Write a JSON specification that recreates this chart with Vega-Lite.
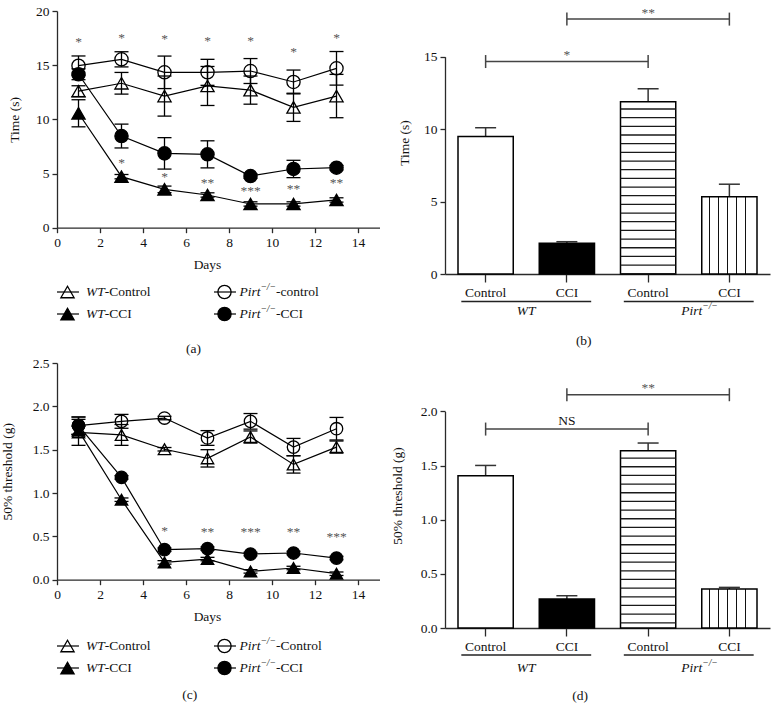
{
 "$schema": "https://vega.github.io/schema/vega-lite/v6.json",
 "background": "white",
 "padding": {"left": 0, "top": 4, "right": 2, "bottom": 2},
 "config": {
  "font": "Liberation Serif",
  "view": {"stroke": null},
  "axis": {
   "labelFont": "Liberation Serif", "titleFont": "Liberation Serif",
   "labelFontSize": 13.5, "titleFontSize": 13.5, "titleFontWeight": "normal",
   "labelColor": "#111", "titleColor": "#111",
   "domainColor": "#2a2a2a", "tickColor": "#2a2a2a", "domainWidth": 1.3, "tickWidth": 1.3,
   "grid": false, "tickSize": 5, "labelPadding": 3, "labelFlush": false, "labelOverlap": false
  },
  "title": {"font": "Liberation Serif", "fontSize": 13.5, "fontWeight": "normal", "color": "#111", "anchor": "middle"},
  "text": {"font": "Liberation Serif"}
 },
 "datasets": {
  "timeA": [
   {"series": "Pirt-Control", "day": 1, "mean": 14.95, "sem": 0.9},
   {"series": "Pirt-Control", "day": 3, "mean": 15.54, "sem": 0.7},
   {"series": "Pirt-Control", "day": 5, "mean": 14.34, "sem": 1.5},
   {"series": "Pirt-Control", "day": 7, "mean": 14.34, "sem": 1.2},
   {"series": "Pirt-Control", "day": 9, "mean": 14.46, "sem": 1.15},
   {"series": "Pirt-Control", "day": 11, "mean": 13.45, "sem": 1.1},
   {"series": "Pirt-Control", "day": 13, "mean": 14.71, "sem": 1.55},
   {"series": "WT-Control", "day": 1, "mean": 12.6, "sem": 0.5},
   {"series": "WT-Control", "day": 3, "mean": 13.33, "sem": 1.0},
   {"series": "WT-Control", "day": 5, "mean": 12.15, "sem": 1.85},
   {"series": "WT-Control", "day": 7, "mean": 13.08, "sem": 1.8},
   {"series": "WT-Control", "day": 9, "mean": 12.7, "sem": 1.3},
   {"series": "WT-Control", "day": 11, "mean": 11.11, "sem": 1.3},
   {"series": "WT-Control", "day": 13, "mean": 12.15, "sem": 2.0},
   {"series": "Pirt-CCI", "day": 1, "mean": 14.16, "sem": 0.5},
   {"series": "Pirt-CCI", "day": 3, "mean": 8.46, "sem": 1.1},
   {"series": "Pirt-CCI", "day": 5, "mean": 6.86, "sem": 1.45},
   {"series": "Pirt-CCI", "day": 7, "mean": 6.77, "sem": 1.25},
   {"series": "Pirt-CCI", "day": 9, "mean": 4.77, "sem": 0.2},
   {"series": "Pirt-CCI", "day": 11, "mean": 5.42, "sem": 0.8},
   {"series": "Pirt-CCI", "day": 13, "mean": 5.54, "sem": 0.2},
   {"series": "WT-CCI", "day": 1, "mean": 10.56, "sem": 1.25},
   {"series": "WT-CCI", "day": 3, "mean": 4.71, "sem": 0.2},
   {"series": "WT-CCI", "day": 5, "mean": 3.54, "sem": 0.3},
   {"series": "WT-CCI", "day": 7, "mean": 3.02, "sem": 0.2},
   {"series": "WT-CCI", "day": 9, "mean": 2.19, "sem": 0.2},
   {"series": "WT-CCI", "day": 11, "mean": 2.19, "sem": 0.2},
   {"series": "WT-CCI", "day": 13, "mean": 2.56, "sem": 0.2}
  ],
  "timeC": [
   {"series": "Pirt-Control", "day": 1, "mean": 1.777, "sem": 0.1},
   {"series": "Pirt-Control", "day": 3, "mean": 1.827, "sem": 0.08},
   {"series": "Pirt-Control", "day": 5, "mean": 1.865, "sem": 0.02},
   {"series": "Pirt-Control", "day": 7, "mean": 1.635, "sem": 0.085},
   {"series": "Pirt-Control", "day": 9, "mean": 1.827, "sem": 0.09},
   {"series": "Pirt-Control", "day": 11, "mean": 1.53, "sem": 0.1},
   {"series": "Pirt-Control", "day": 13, "mean": 1.742, "sem": 0.13},
   {"series": "WT-Control", "day": 1, "mean": 1.7, "sem": 0.15},
   {"series": "WT-Control", "day": 3, "mean": 1.67, "sem": 0.12},
   {"series": "WT-Control", "day": 5, "mean": 1.505, "sem": 0.02},
   {"series": "WT-Control", "day": 7, "mean": 1.4, "sem": 0.1},
   {"series": "WT-Control", "day": 9, "mean": 1.646, "sem": 0.07},
   {"series": "WT-Control", "day": 11, "mean": 1.33, "sem": 0.1},
   {"series": "WT-Control", "day": 13, "mean": 1.53, "sem": 0.07},
   {"series": "Pirt-CCI", "day": 1, "mean": 1.777, "sem": 0.1},
   {"series": "Pirt-CCI", "day": 3, "mean": 1.18, "sem": 0.02},
   {"series": "Pirt-CCI", "day": 5, "mean": 0.346, "sem": 0.02},
   {"series": "Pirt-CCI", "day": 7, "mean": 0.358, "sem": 0.02},
   {"series": "Pirt-CCI", "day": 9, "mean": 0.296, "sem": 0.02},
   {"series": "Pirt-CCI", "day": 11, "mean": 0.308, "sem": 0.02},
   {"series": "Pirt-CCI", "day": 13, "mean": 0.25, "sem": 0.02},
   {"series": "WT-CCI", "day": 1, "mean": 1.72, "sem": 0.05},
   {"series": "WT-CCI", "day": 3, "mean": 0.923, "sem": 0.02},
   {"series": "WT-CCI", "day": 5, "mean": 0.2, "sem": 0.02},
   {"series": "WT-CCI", "day": 7, "mean": 0.238, "sem": 0.02},
   {"series": "WT-CCI", "day": 9, "mean": 0.096, "sem": 0.02},
   {"series": "WT-CCI", "day": 11, "mean": 0.135, "sem": 0.02},
   {"series": "WT-CCI", "day": 13, "mean": 0.069, "sem": 0.02}
  ],
  "starsA": [
   {"day": 1, "y": 17.17, "label": "*"},
   {"day": 3, "y": 17.5, "label": "*"},
   {"day": 5, "y": 17.4, "label": "*"},
   {"day": 7, "y": 17.25, "label": "*"},
   {"day": 9, "y": 17.25, "label": "*"},
   {"day": 11, "y": 16.2, "label": "*"},
   {"day": 13, "y": 17.5, "label": "*"},
   {"day": 3, "y": 6.0, "label": "*"},
   {"day": 5, "y": 4.7, "label": "*"},
   {"day": 7, "y": 4.15, "label": "**"},
   {"day": 9, "y": 3.4, "label": "***"},
   {"day": 11, "y": 3.54, "label": "**"},
   {"day": 13, "y": 4.1, "label": "**"}
  ],
  "starsC": [
   {"day": 5, "y": 0.557, "label": "*"},
   {"day": 7, "y": 0.546, "label": "**"},
   {"day": 9, "y": 0.546, "label": "***"},
   {"day": 11, "y": 0.546, "label": "**"},
   {"day": 13, "y": 0.488, "label": "***"}
  ],
  "legendA": [
   {"series": "WT-Control", "geno": "WT", "cond": "Control", "suffix": "-Control"},
   {"series": "WT-CCI", "geno": "WT", "cond": "CCI", "suffix": "-CCI"},
   {"series": "Pirt-Control", "geno": "Pirt", "cond": "Control", "suffix": "-control"},
   {"series": "Pirt-CCI", "geno": "Pirt", "cond": "CCI", "suffix": "-CCI"}
  ],
  "legendC": [
   {"series": "WT-Control", "geno": "WT", "cond": "Control", "suffix": "-Control"},
   {"series": "WT-CCI", "geno": "WT", "cond": "CCI", "suffix": "-CCI"},
   {"series": "Pirt-Control", "geno": "Pirt", "cond": "Control", "suffix": "-Control"},
   {"series": "Pirt-CCI", "geno": "Pirt", "cond": "CCI", "suffix": "-CCI"}
  ],
  "barsB": [
   {"bar": "WT-Control", "mean": 9.49, "upper": 10.1},
   {"bar": "WT-CCI", "mean": 2.12, "upper": 2.23},
   {"bar": "Pirt-Control", "mean": 11.9, "upper": 12.79},
   {"bar": "Pirt-CCI", "mean": 5.34, "upper": 6.2}
  ],
  "barsD": [
   {"bar": "WT-Control", "mean": 1.406, "upper": 1.501},
   {"bar": "WT-CCI", "mean": 0.268, "upper": 0.298},
   {"bar": "Pirt-Control", "mean": 1.637, "upper": 1.708},
   {"bar": "Pirt-CCI", "mean": 0.36, "upper": 0.375}
  ],
  "bracketsB": [
   {"from": "WT-Control", "to": "Pirt-Control", "mid": "WT-CCI", "y": 14.67, "label": "*"},
   {"from": "WT-CCI", "to": "Pirt-CCI", "mid": "Pirt-Control", "y": 17.6, "label": "**"}
  ],
  "bracketsD": [
   {"from": "WT-Control", "to": "Pirt-Control", "mid": "WT-CCI", "y": 1.837, "label": "NS"},
   {"from": "WT-CCI", "to": "Pirt-CCI", "mid": "Pirt-Control", "y": 2.154, "label": "**"}
  ],
  "groups": [
   {"group": "WT", "first": "WT-Control", "last": "WT-CCI"},
   {"group": "Pirt", "first": "Pirt-Control", "last": "Pirt-CCI"}
  ]
 },
 "columns": 2,
 "spacing": {"row": 0, "column": 10},
 "concat": [
  {
   "vconcat": [
    {
     "width": 322.5, "height": 216.7,
     "data": {"name": "timeA"},
     "encoding": {
      "x": {"field": "day", "type": "quantitative", "scale": {"domain": [0, 15], "nice": false}, "axis": {"values": [0, 2, 4, 6, 8, 10, 12, 14], "title": "Days", "titleX": 150, "titlePadding": 8}},
      "y": {"field": "mean", "type": "quantitative", "scale": {"domain": [0, 20], "nice": false}, "axis": {"values": [0, 5, 10, 15, 20], "title": "Time (s)", "titlePadding": 14}}
     },
     "layer": [
      {"mark": {"type": "line", "color": "black", "strokeWidth": 1.2}, "encoding": {"detail": {"field": "series"}}},
      {"mark": {"type": "errorbar", "color": "black", "ticks": true, "size": 14, "thickness": 1.3, "opacity": 1}, "encoding": {"yError": {"field": "sem"}, "detail": {"field": "series"}}},
      {"mark": {"type": "point", "filled": true, "size": 175, "stroke": "black", "strokeWidth": 1.3, "opacity": 1},
       "encoding": {
        "shape": {"field": "series", "type": "nominal", "scale": {"domain": ["WT-Control", "WT-CCI", "Pirt-Control", "Pirt-CCI"], "range": ["triangle-up", "triangle-up", "circle", "circle"]}, "legend": null},
        "fill": {"field": "series", "type": "nominal", "scale": {"domain": ["WT-Control", "WT-CCI", "Pirt-Control", "Pirt-CCI"], "range": ["transparent", "black", "transparent", "black"]}, "legend": null}
       }},
      {"data": {"name": "starsA"}, "mark": {"type": "text", "fontSize": 13.5, "color": "#555", "baseline": "middle", "dy": 0}, "encoding": {"y": {"field": "y", "type": "quantitative"}, "text": {"field": "label"}}}
     ]
    },
    {
     "width": 314, "height": 44,
     "data": {"name": "legendA"},
     "encoding": {
      "x": {"field": "geno", "type": "nominal", "bandPosition": 0, "scale": {"type": "band", "domain": ["WT", "Pirt"], "paddingInner": 0, "paddingOuter": 0}, "axis": null},
      "y": {"field": "cond", "type": "nominal", "scale": {"type": "band", "domain": ["Control", "CCI"], "paddingInner": 0, "paddingOuter": 0}, "axis": null}
     },
     "layer": [
      {"mark": {"type": "rule", "color": "black", "strokeWidth": 1.2}, "encoding": {"x2": {"field": "geno", "bandPosition": 0.14}}},
      {"mark": {"type": "point", "filled": true, "size": 175, "stroke": "black", "strokeWidth": 1.3, "opacity": 1, "xOffset": 10.5},
       "encoding": {
        "shape": {"field": "series", "type": "nominal", "scale": {"domain": ["WT-Control", "WT-CCI", "Pirt-Control", "Pirt-CCI"], "range": ["triangle-up", "triangle-up", "circle", "circle"]}, "legend": null},
        "fill": {"field": "series", "type": "nominal", "scale": {"domain": ["WT-Control", "WT-CCI", "Pirt-Control", "Pirt-CCI"], "range": ["transparent", "black", "transparent", "black"]}, "legend": null}
       }},
      {"transform": [{"filter": "datum.geno === 'WT'"}], "mark": {"type": "text", "align": "left", "baseline": "middle", "dx": 29, "fontSize": 13.5, "fontStyle": "italic", "color": "#111"}, "encoding": {"text": {"field": "geno"}}},
      {"transform": [{"filter": "datum.geno === 'WT'"}], "mark": {"type": "text", "align": "left", "baseline": "middle", "dx": 47.7, "fontSize": 13.5, "color": "#111"}, "encoding": {"text": {"field": "suffix"}}},
      {"transform": [{"filter": "datum.geno === 'Pirt'"}], "mark": {"type": "text", "align": "left", "baseline": "middle", "dx": 25.4, "fontSize": 13.5, "fontStyle": "italic", "color": "#111"}, "encoding": {"text": {"field": "geno"}}},
      {"transform": [{"filter": "datum.geno === 'Pirt'"}], "mark": {"type": "text", "align": "left", "baseline": "middle", "dx": 46.4, "dy": -5, "fontSize": 9.5, "fontStyle": "italic", "color": "#111"}, "encoding": {"text": {"value": "−/−"}}},
      {"transform": [{"filter": "datum.geno === 'Pirt'"}], "mark": {"type": "text", "align": "left", "baseline": "middle", "dx": 62, "fontSize": 13.5, "color": "#111"}, "encoding": {"text": {"field": "suffix"}}}
     ]
    }
   ],
   "spacing": 10,
   "title": {"text": "(a)", "orient": "bottom", "frame": "bounds", "anchor": "middle", "offset": 17}
  },
  {
   "width": 325, "height": 263,
   "title": {"text": "(b)", "orient": "bottom", "frame": "bounds", "anchor": "middle", "offset": 16},
   "layer": [
    {
     "data": {"name": "barsB"},
     "encoding": {
      "x": {"field": "bar", "type": "nominal", "scale": {"type": "band", "domain": ["WT-Control", "WT-CCI", "Pirt-Control", "Pirt-CCI"], "paddingInner": 0.32, "paddingOuter": 0.16}, "axis": {"title": null, "labelExpr": "substring(datum.label, indexof(datum.label, '-') + 1)", "labelAngle": 0, "tickSize": 8, "labelPadding": 3}}
     },
     "layer": [
      {"mark": {"type": "rule", "color": "#333", "strokeWidth": 1.5}, "encoding": {"y": {"field": "mean", "type": "quantitative", "scale": {"domain": [0, 18.16], "nice": false}, "axis": {"values": [0, 5, 10, 15], "title": "Time (s)", "titlePadding": 12, "domainDash": [217.3, 600]}}, "y2": {"field": "upper"}}},
      {"mark": {"type": "tick", "color": "#333", "thickness": 1.5, "size": 21, "orient": "horizontal", "opacity": 1}, "encoding": {"y": {"field": "upper", "type": "quantitative"}}},
      {"mark": {"type": "bar", "stroke": "black", "strokeWidth": 1.5},
       "encoding": {
        "y": {"field": "mean", "type": "quantitative"},
        "fill": {"condition": [
          {"test": "datum.bar === 'WT-CCI'", "value": "black"},
          {"test": "datum.bar === 'Pirt-CCI'", "value": {"gradient": "linear", "x1": 0, "y1": 0, "x2": 1, "y2": 0, "stops": [
            {"offset": 0, "color": "white"},
            {"offset": 0.129, "color": "white"}, {"offset": 0.129, "color": "#111"}, {"offset": 0.151, "color": "#111"}, {"offset": 0.151, "color": "white"},
            {"offset": 0.289, "color": "white"}, {"offset": 0.289, "color": "#111"}, {"offset": 0.311, "color": "#111"}, {"offset": 0.311, "color": "white"},
            {"offset": 0.454, "color": "white"}, {"offset": 0.454, "color": "#111"}, {"offset": 0.476, "color": "#111"}, {"offset": 0.476, "color": "white"},
            {"offset": 0.614, "color": "white"}, {"offset": 0.614, "color": "#111"}, {"offset": 0.636, "color": "#111"}, {"offset": 0.636, "color": "white"},
            {"offset": 0.774, "color": "white"}, {"offset": 0.774, "color": "#111"}, {"offset": 0.796, "color": "#111"}, {"offset": 0.796, "color": "white"},
            {"offset": 1, "color": "white"}
          ]}}
         ], "value": "white"}
       }},
      {"transform": [{"filter": "datum.bar === 'Pirt-Control'"}], "mark": {"type": "rule", "color": "#1a1a1a", "strokeWidth": 55, "strokeDash": [1.3, 7.37], "strokeDashOffset": 1.97, "strokeCap": "butt"}, "encoding": {"y": {"field": "mean", "type": "quantitative"}, "y2": {"datum": 0}}}
     ]
    },
    {
     "data": {"name": "bracketsB"},
     "layer": [
      {"mark": {"type": "rule", "color": "#444", "strokeWidth": 1.5}, "encoding": {"x": {"field": "from", "type": "nominal", "bandPosition": 0.5}, "x2": {"field": "to", "bandPosition": 0.5}, "y": {"field": "y", "type": "quantitative"}}},
      {"mark": {"type": "tick", "orient": "vertical", "color": "#444", "thickness": 1.5, "size": 13, "opacity": 1}, "encoding": {"x": {"field": "from", "type": "nominal"}, "y": {"field": "y", "type": "quantitative"}}},
      {"mark": {"type": "tick", "orient": "vertical", "color": "#444", "thickness": 1.5, "size": 13, "opacity": 1}, "encoding": {"x": {"field": "to", "type": "nominal"}, "y": {"field": "y", "type": "quantitative"}}},
      {"mark": {"type": "text", "color": "#555", "fontSize": 13.5, "baseline": "middle", "dy": -6.5}, "encoding": {"x": {"field": "mid", "type": "nominal"}, "y": {"field": "y", "type": "quantitative"}, "text": {"field": "label"}}}
     ]
    },
    {
     "data": {"name": "groups"},
     "layer": [
      {"mark": {"type": "rule", "color": "#222", "strokeWidth": 1.3, "yOffset": 27.5}, "encoding": {"x": {"field": "first", "type": "nominal", "bandPosition": 0.06}, "x2": {"field": "last", "bandPosition": 0.94}, "y": {"datum": 0}}},
      {"transform": [{"filter": "datum.group === 'WT'"}], "mark": {"type": "text", "fontStyle": "italic", "fontSize": 13.5, "color": "#111", "baseline": "middle", "dy": 37}, "encoding": {"x": {"field": "first", "type": "nominal", "bandPosition": 1.235}, "y": {"datum": 0}, "text": {"field": "group"}}},
      {"transform": [{"filter": "datum.group === 'Pirt'"}], "mark": {"type": "text", "fontStyle": "italic", "fontSize": 13.5, "color": "#111", "baseline": "middle", "dy": 37, "dx": 3}, "encoding": {"x": {"field": "first", "type": "nominal", "bandPosition": 1.235}, "y": {"datum": 0}, "text": {"field": "group"}}},
      {"transform": [{"filter": "datum.group === 'Pirt'"}], "mark": {"type": "text", "fontStyle": "italic", "fontSize": 9.5, "color": "#111", "baseline": "middle", "align": "left", "dy": 32, "dx": 13.5}, "encoding": {"x": {"field": "first", "type": "nominal", "bandPosition": 1.235}, "y": {"datum": 0}, "text": {"value": "−/−"}}}
     ]
    }
   ]
  },
  {
   "vconcat": [
    {
     "width": 322.5, "height": 216.7,
     "data": {"name": "timeC"},
     "encoding": {
      "x": {"field": "day", "type": "quantitative", "scale": {"domain": [0, 15], "nice": false}, "axis": {"values": [0, 2, 4, 6, 8, 10, 12, 14], "title": "Days", "titleX": 150, "titlePadding": 8}},
      "y": {"field": "mean", "type": "quantitative", "scale": {"domain": [0, 2.5], "nice": false}, "axis": {"values": [0, 0.5, 1, 1.5, 2, 2.5], "format": ".1f", "title": "50% threshold (g)", "titlePadding": 18}}
     },
     "layer": [
      {"mark": {"type": "line", "color": "black", "strokeWidth": 1.2}, "encoding": {"detail": {"field": "series"}}},
      {"mark": {"type": "errorbar", "color": "black", "ticks": true, "size": 14, "thickness": 1.3, "opacity": 1}, "encoding": {"yError": {"field": "sem"}, "detail": {"field": "series"}}},
      {"mark": {"type": "point", "filled": true, "size": 155, "stroke": "black", "strokeWidth": 1.3, "opacity": 1},
       "encoding": {
        "shape": {"field": "series", "type": "nominal", "scale": {"domain": ["WT-Control", "WT-CCI", "Pirt-Control", "Pirt-CCI"], "range": ["triangle-up", "triangle-up", "circle", "circle"]}, "legend": null},
        "fill": {"field": "series", "type": "nominal", "scale": {"domain": ["WT-Control", "WT-CCI", "Pirt-Control", "Pirt-CCI"], "range": ["transparent", "black", "transparent", "black"]}, "legend": null}
       }},
      {"data": {"name": "starsC"}, "mark": {"type": "text", "fontSize": 13.5, "color": "#555", "baseline": "middle", "dy": 0}, "encoding": {"y": {"field": "y", "type": "quantitative"}, "text": {"field": "label"}}}
     ]
    },
    {
     "width": 314, "height": 44,
     "data": {"name": "legendC"},
     "encoding": {
      "x": {"field": "geno", "type": "nominal", "bandPosition": 0, "scale": {"type": "band", "domain": ["WT", "Pirt"], "paddingInner": 0, "paddingOuter": 0}, "axis": null},
      "y": {"field": "cond", "type": "nominal", "scale": {"type": "band", "domain": ["Control", "CCI"], "paddingInner": 0, "paddingOuter": 0}, "axis": null}
     },
     "layer": [
      {"mark": {"type": "rule", "color": "black", "strokeWidth": 1.2}, "encoding": {"x2": {"field": "geno", "bandPosition": 0.14}}},
      {"mark": {"type": "point", "filled": true, "size": 175, "stroke": "black", "strokeWidth": 1.3, "opacity": 1, "xOffset": 10.5},
       "encoding": {
        "shape": {"field": "series", "type": "nominal", "scale": {"domain": ["WT-Control", "WT-CCI", "Pirt-Control", "Pirt-CCI"], "range": ["triangle-up", "triangle-up", "circle", "circle"]}, "legend": null},
        "fill": {"field": "series", "type": "nominal", "scale": {"domain": ["WT-Control", "WT-CCI", "Pirt-Control", "Pirt-CCI"], "range": ["transparent", "black", "transparent", "black"]}, "legend": null}
       }},
      {"transform": [{"filter": "datum.geno === 'WT'"}], "mark": {"type": "text", "align": "left", "baseline": "middle", "dx": 29, "fontSize": 13.5, "fontStyle": "italic", "color": "#111"}, "encoding": {"text": {"field": "geno"}}},
      {"transform": [{"filter": "datum.geno === 'WT'"}], "mark": {"type": "text", "align": "left", "baseline": "middle", "dx": 47.7, "fontSize": 13.5, "color": "#111"}, "encoding": {"text": {"field": "suffix"}}},
      {"transform": [{"filter": "datum.geno === 'Pirt'"}], "mark": {"type": "text", "align": "left", "baseline": "middle", "dx": 25.4, "fontSize": 13.5, "fontStyle": "italic", "color": "#111"}, "encoding": {"text": {"field": "geno"}}},
      {"transform": [{"filter": "datum.geno === 'Pirt'"}], "mark": {"type": "text", "align": "left", "baseline": "middle", "dx": 46.4, "dy": -5, "fontSize": 9.5, "fontStyle": "italic", "color": "#111"}, "encoding": {"text": {"value": "−/−"}}},
      {"transform": [{"filter": "datum.geno === 'Pirt'"}], "mark": {"type": "text", "align": "left", "baseline": "middle", "dx": 62, "fontSize": 13.5, "color": "#111"}, "encoding": {"text": {"field": "suffix"}}}
     ]
    }
   ],
   "spacing": 12,
   "title": {"text": "(c)", "orient": "bottom", "frame": "bounds", "anchor": "middle", "offset": 9}
  },
  {
   "width": 325, "height": 265,
   "title": {"text": "(d)", "orient": "bottom", "frame": "bounds", "anchor": "middle", "offset": 14},
   "layer": [
    {
     "data": {"name": "barsD"},
     "encoding": {
      "x": {"field": "bar", "type": "nominal", "scale": {"type": "band", "domain": ["WT-Control", "WT-CCI", "Pirt-Control", "Pirt-CCI"], "paddingInner": 0.32, "paddingOuter": 0.16}, "axis": {"title": null, "labelExpr": "substring(datum.label, indexof(datum.label, '-') + 1)", "labelAngle": 0, "tickSize": 8, "labelPadding": 3}}
     },
     "layer": [
      {"mark": {"type": "rule", "color": "#333", "strokeWidth": 1.5}, "encoding": {"y": {"field": "mean", "type": "quantitative", "scale": {"domain": [0, 2.447], "nice": false}, "axis": {"values": [0, 0.5, 1, 1.5, 2], "format": ".1f", "title": "50% threshold (g)", "titlePadding": 16, "domainDash": [216.7, 600]}}, "y2": {"field": "upper"}}},
      {"mark": {"type": "tick", "color": "#333", "thickness": 1.5, "size": 21, "orient": "horizontal", "opacity": 1}, "encoding": {"y": {"field": "upper", "type": "quantitative"}}},
      {"mark": {"type": "bar", "stroke": "black", "strokeWidth": 1.5},
       "encoding": {
        "y": {"field": "mean", "type": "quantitative"},
        "fill": {"condition": [
          {"test": "datum.bar === 'WT-CCI'", "value": "black"},
          {"test": "datum.bar === 'Pirt-CCI'", "value": {"gradient": "linear", "x1": 0, "y1": 0, "x2": 1, "y2": 0, "stops": [
            {"offset": 0, "color": "white"},
            {"offset": 0.129, "color": "white"}, {"offset": 0.129, "color": "#111"}, {"offset": 0.151, "color": "#111"}, {"offset": 0.151, "color": "white"},
            {"offset": 0.289, "color": "white"}, {"offset": 0.289, "color": "#111"}, {"offset": 0.311, "color": "#111"}, {"offset": 0.311, "color": "white"},
            {"offset": 0.454, "color": "white"}, {"offset": 0.454, "color": "#111"}, {"offset": 0.476, "color": "#111"}, {"offset": 0.476, "color": "white"},
            {"offset": 0.614, "color": "white"}, {"offset": 0.614, "color": "#111"}, {"offset": 0.636, "color": "#111"}, {"offset": 0.636, "color": "white"},
            {"offset": 0.774, "color": "white"}, {"offset": 0.774, "color": "#111"}, {"offset": 0.796, "color": "#111"}, {"offset": 0.796, "color": "white"},
            {"offset": 1, "color": "white"}
          ]}}
         ], "value": "white"}
       }},
      {"transform": [{"filter": "datum.bar === 'Pirt-Control'"}], "mark": {"type": "rule", "color": "#1a1a1a", "strokeWidth": 55, "strokeDash": [1.3, 7.37], "strokeDashOffset": 1.97, "strokeCap": "butt"}, "encoding": {"y": {"field": "mean", "type": "quantitative"}, "y2": {"datum": 0}}}
     ]
    },
    {
     "data": {"name": "bracketsD"},
     "layer": [
      {"mark": {"type": "rule", "color": "#444", "strokeWidth": 1.5}, "encoding": {"x": {"field": "from", "type": "nominal", "bandPosition": 0.5}, "x2": {"field": "to", "bandPosition": 0.5}, "y": {"field": "y", "type": "quantitative"}}},
      {"mark": {"type": "tick", "orient": "vertical", "color": "#444", "thickness": 1.5, "size": 13, "opacity": 1}, "encoding": {"x": {"field": "from", "type": "nominal"}, "y": {"field": "y", "type": "quantitative"}}},
      {"mark": {"type": "tick", "orient": "vertical", "color": "#444", "thickness": 1.5, "size": 13, "opacity": 1}, "encoding": {"x": {"field": "to", "type": "nominal"}, "y": {"field": "y", "type": "quantitative"}}},
      {"transform": [{"filter": "datum.label !== 'NS'"}], "mark": {"type": "text", "color": "#555", "fontSize": 13.5, "baseline": "middle", "dy": -6.5}, "encoding": {"x": {"field": "mid", "type": "nominal"}, "y": {"field": "y", "type": "quantitative"}, "text": {"field": "label"}}},
      {"transform": [{"filter": "datum.label === 'NS'"}], "mark": {"type": "text", "color": "#111", "fontSize": 13.5, "baseline": "middle", "dy": -8}, "encoding": {"x": {"field": "mid", "type": "nominal"}, "y": {"field": "y", "type": "quantitative"}, "text": {"field": "label"}}}
     ]
    },
    {
     "data": {"name": "groups"},
     "layer": [
      {"mark": {"type": "rule", "color": "#222", "strokeWidth": 1.3, "yOffset": 27}, "encoding": {"x": {"field": "first", "type": "nominal", "bandPosition": 0.06}, "x2": {"field": "last", "bandPosition": 0.94}, "y": {"datum": 0}}},
      {"transform": [{"filter": "datum.group === 'WT'"}], "mark": {"type": "text", "fontStyle": "italic", "fontSize": 13.5, "color": "#111", "baseline": "middle", "dy": 40}, "encoding": {"x": {"field": "first", "type": "nominal", "bandPosition": 1.235}, "y": {"datum": 0}, "text": {"field": "group"}}},
      {"transform": [{"filter": "datum.group === 'Pirt'"}], "mark": {"type": "text", "fontStyle": "italic", "fontSize": 13.5, "color": "#111", "baseline": "middle", "dy": 40, "dx": 3}, "encoding": {"x": {"field": "first", "type": "nominal", "bandPosition": 1.235}, "y": {"datum": 0}, "text": {"field": "group"}}},
      {"transform": [{"filter": "datum.group === 'Pirt'"}], "mark": {"type": "text", "fontStyle": "italic", "fontSize": 9.5, "color": "#111", "baseline": "middle", "align": "left", "dy": 35, "dx": 13.5}, "encoding": {"x": {"field": "first", "type": "nominal", "bandPosition": 1.235}, "y": {"datum": 0}, "text": {"value": "−/−"}}}
     ]
    }
   ]
  }
 ]
}
